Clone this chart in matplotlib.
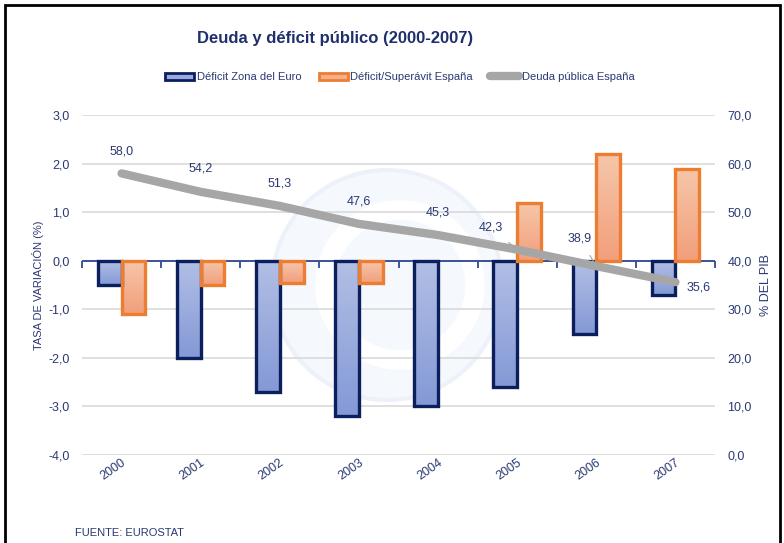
import numpy as np
import matplotlib.pyplot as plt
import matplotlib.transforms as mtransforms
from matplotlib.patches import Rectangle, Ellipse
from matplotlib.colors import LinearSegmentedColormap

plt.rcParams['font.family'] = ['Liberation Sans', 'DejaVu Sans']

years = ['2000', '2001', '2002', '2003', '2004', '2005', '2006', '2007']
deficit_euro = [-0.5, -2.0, -2.7, -3.2, -3.0, -2.6, -1.5, -0.7]
deficit_espana = [-1.1, -0.5, -0.45, -0.45, 0.0, 1.2, 2.2, 1.9]
deuda_espana = [58.0, 54.2, 51.3, 47.6, 45.3, 42.3, 38.9, 35.6]
left_ticks = [3.0, 2.0, 1.0, 0.0, -1.0, -2.0, -3.0, -4.0]
right_ticks = [70.0, 60.0, 50.0, 40.0, 30.0, 20.0, 10.0, 0.0]

navy = '#0B1F5C'
txt = '#2B3873'
orange = '#ED7D31'

fig = plt.figure(figsize=(7.84, 5.43), dpi=100)

# faint euro watermark, behind everything
fig.patches.append(Ellipse((387 / 784, 1 - 285 / 543), 230 / 784, 230 / 543, transform=fig.transFigure,
                           facecolor='#F5F8FD', edgecolor='#EDF2FA', linewidth=3, zorder=-5))
fig.patches.append(Ellipse((400 / 784, 1 - 285 / 543), 150 / 784, 150 / 543, transform=fig.transFigure,
                           facecolor='none', edgecolor='white', linewidth=14, zorder=-4))

ax = fig.add_axes([0.1046, 0.162, 0.8074, 0.626])
ax.patch.set_alpha(0)
x = np.arange(len(years))
w = 0.3

b1 = ax.bar(x - w / 2, deficit_euro, w, color='none', edgecolor=navy, linewidth=2.4, zorder=3,
            label='Déficit Zona del Euro')
b2 = ax.bar(x + w / 2, deficit_espana, w, color='none', edgecolor=orange, linewidth=2.4, zorder=3,
            label='Déficit/Superávit España')
for r in b1.patches + b2.patches:
    if r.get_height() == 0:
        r.set_linewidth(0)

cm_blue = LinearSegmentedColormap.from_list('b', ['#B2BFE5', '#8499D6'])
cm_orange = LinearSegmentedColormap.from_list('o', ['#F6C6AA', '#F29F7B'])
grad = np.linspace(0, 1, 64).reshape(-1, 1)
for bars, cm in ((b1, cm_blue), (b2, cm_orange)):
    for r in bars.patches:
        x0, y0, ww, hh = r.get_x(), r.get_y(), r.get_width(), r.get_height()
        if hh == 0:
            continue
        top, bot = max(y0, y0 + hh), min(y0, y0 + hh)
        im = ax.imshow(grad, cmap=cm, extent=(x0, x0 + ww, bot, top), origin='upper',
                       aspect='auto', zorder=2.5)
        im.set_clip_path(r)

ax.set_xlim(-0.5, len(years) - 0.5)
ax.set_ylim(-4, 3)
ax.set_yticks(left_ticks)
ax.set_yticklabels([f'{v:.1f}'.replace('.', ',') for v in left_ticks])
ax.grid(axis='y', color='#D9D9D9', linewidth=1.2, zorder=0)
ax.set_axisbelow(True)
for s in ax.spines.values():
    s.set_visible(False)
ax.tick_params(axis='y', length=0, labelsize=9, labelcolor=txt, pad=9)
ax.set_xticks(x)
ax.set_xticklabels(years, rotation=35, fontsize=9, color=txt)
ax.tick_params(axis='x', length=0, pad=1)
shift = mtransforms.ScaledTranslation(-6 / 72, 0, fig.dpi_scale_trans)
for t in ax.get_xticklabels():
    t.set_transform(t.get_transform() + shift)
ax.set_ylabel('TASA DE VARIACIÓN (%)', fontsize=8, color=txt, labelpad=3)

# zero line with category separators (ticks hang below the line)
ax.axhline(0, color='#1F3A8A', linewidth=1.2, zorder=2.6)
zero = ax.secondary_xaxis(4 / 7)
for s in zero.spines.values():
    s.set_visible(False)
zero.set_xticks(np.arange(-0.5, len(years)))
zero.set_xticklabels([])
zero.tick_params(axis='x', length=5, width=1.2, color='#1F3A8A', direction='in')

ax2 = ax.twinx()
ax2.plot(x, deuda_espana, color='#A6A6A6', linewidth=6, solid_capstyle='round', zorder=4,
         label='Deuda pública España')
ax2.set_ylim(0, 70)
ax2.set_yticks(right_ticks)
ax2.set_yticklabels([f'{v:.1f}'.replace('.', ',') for v in right_ticks])
for s in ax2.spines.values():
    s.set_visible(False)
ax2.tick_params(axis='y', length=0, labelsize=9, labelcolor=txt, pad=9)
ax2.set_ylabel('% DEL PIB', fontsize=9, color=txt, rotation=90, labelpad=6)

offsets = [(0, 16), (0, 16.5), (0, 16.5), (0, 16), (0, 16.5), (-19, 16), (-12, 20), (17, -4)]
for i, v in enumerate(deuda_espana):
    lbl = f'{v:.1f}'.replace('.', ',')
    if i in (5, 6):
        ax2.annotate(lbl, (x[i], v), xytext=offsets[i], textcoords='offset points',
                     ha='center', va='center', fontsize=9, color=txt,
                     arrowprops=dict(arrowstyle='-', color='#A6A6A6', lw=0.8, shrinkA=7, shrinkB=3))
    else:
        ax2.annotate(lbl, (x[i], v), xytext=offsets[i], textcoords='offset points',
                     ha='center', va='center', fontsize=9, color=txt)

l1 = ax.get_legend_handles_labels()[1]
h2, l2 = ax2.get_legend_handles_labels()
h1 = [Rectangle((0, 0), 1, 1, facecolor='#9AAAE0', edgecolor=navy, linewidth=2),
      Rectangle((0, 0), 1, 1, facecolor='#F4B08E', edgecolor=orange, linewidth=2)]
fig.legend(h1 + h2, l1 + l2, loc='center', bbox_to_anchor=(0.51, 0.858), ncol=3, frameon=False,
           fontsize=8, labelcolor=txt, handlelength=2.6, handleheight=0.6, columnspacing=1.6,
           handletextpad=0.2)

fig.text(0.427, 0.93, 'Deuda y déficit público (2000-2007)', ha='center', va='center',
         fontsize=12, fontweight='bold', color='#1F2F6E')
fig.text(0.096, 0.018, 'FUENTE: EUROSTAT', ha='left', va='center', fontsize=8, color=txt)

fig.patches.append(Rectangle((0.007, -0.05), 0.988, 1.04, transform=fig.transFigure,
                             fill=False, edgecolor='black', linewidth=2))

fig.savefig('out.png', dpi=100)
